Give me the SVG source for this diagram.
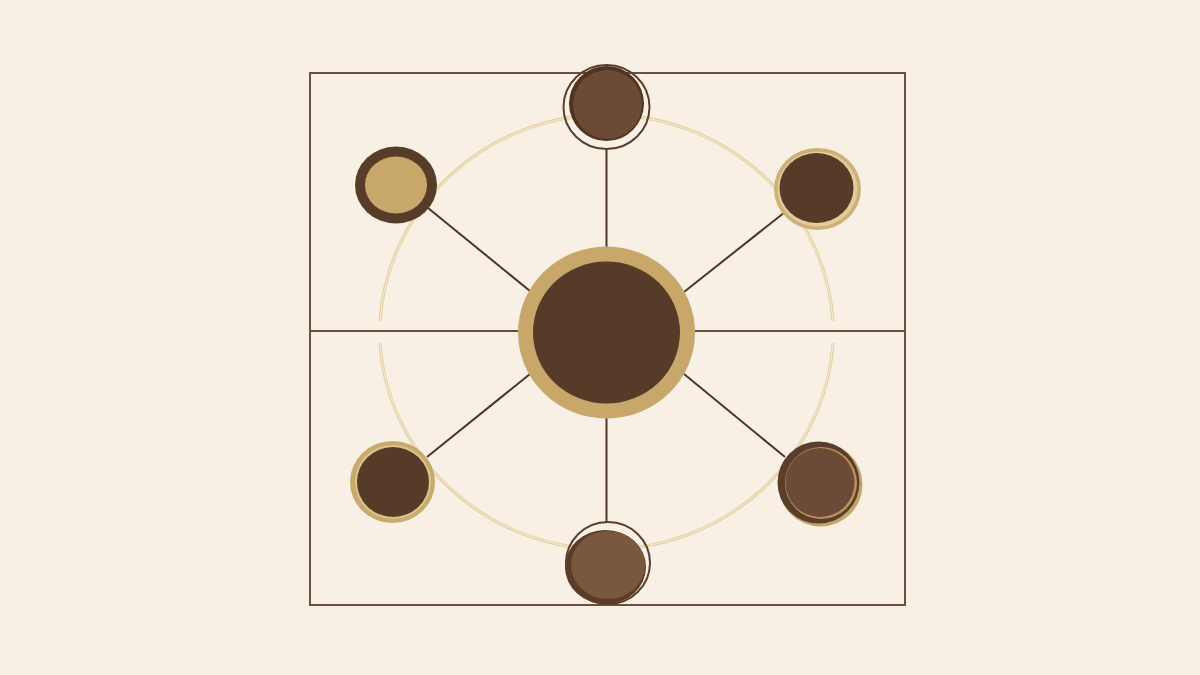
<svg xmlns="http://www.w3.org/2000/svg" width="1200" height="675" viewBox="0 0 1200 675">
<style>
.frame{fill:none;stroke:#6a5040;stroke-width:2}
.link{stroke:#4e3626;stroke-width:2;fill:none}
.ring1{fill:none;stroke:#e4d2a4;stroke-width:3.2}
.ring2{fill:none;stroke:#f6eedb;stroke-width:1}
.dark{fill:#573b29}
.gold{fill:#c8a76b}
.thin{fill:none;stroke:#5a3d2b;stroke-width:2}
</style>
<rect x="0" y="0" width="1200" height="675" fill="#f8f0e5"/>
<g id="frame">
<rect class="frame" x="310" y="73" width="595" height="532"/>
<line class="frame" x1="310" y1="331" x2="905" y2="331"/>
</g>
<g id="orbit">
<path class="ring1" d="M380,321 A227,221 0 0 1 833,321"/>
<path class="ring1" d="M380,343 A227,221 0 0 0 833,343"/>
<path class="ring2" d="M380,321 A227,221 0 0 1 833,321"/>
<path class="ring2" d="M380,343 A227,221 0 0 0 833,343"/>
</g>
<g id="connectors">
<line class="link" x1="606.5" y1="149" x2="606.5" y2="248"/>
<line class="link" x1="606.5" y1="417" x2="606.5" y2="522"/>
<line class="link" x1="428" y1="208" x2="530" y2="291"/>
<line class="link" x1="785" y1="212" x2="684" y2="292"/>
<line class="link" x1="427" y1="457" x2="530" y2="374"/>
<line class="link" x1="785" y1="457" x2="684" y2="374"/>
</g>
<g id="center">
<ellipse class="gold" cx="606.5" cy="332.5" rx="88.5" ry="86"/>
<ellipse class="dark" cx="606.5" cy="332.5" rx="73.5" ry="71"/>
</g>
<g id="node-top">
<ellipse class="thin" cx="606.5" cy="107" rx="43" ry="42"/>
<circle cx="606.5" cy="103.5" r="37.5" fill="#4f3423"/>
<circle cx="607.5" cy="104.5" r="34.5" fill="#6b4a36"/>
</g>
<g id="node-top-left">
<ellipse cx="396" cy="185" rx="41" ry="38.5" fill="#583c2a"/>
<ellipse class="gold" cx="396" cy="185" rx="31" ry="28.5"/>
</g>
<g id="node-top-right">
<ellipse cx="817.5" cy="189" rx="43.5" ry="41" fill="#cdb077"/>
<ellipse cx="817.5" cy="189" rx="40" ry="37.5" fill="#e3cc98"/>
<ellipse class="dark" cx="816.5" cy="188" rx="37" ry="35"/>
</g>
<g id="node-bottom-left">
<ellipse cx="392.5" cy="482" rx="42.5" ry="41" fill="#c9aa6e"/>
<ellipse cx="393" cy="482" rx="38" ry="37" fill="#dcc48e"/>
<ellipse class="dark" cx="393" cy="482" rx="36" ry="35"/>
</g>
<g id="node-bottom-right">
<circle cx="820.5" cy="484.5" r="42" fill="#c6a468"/>
<circle cx="818.5" cy="482.5" r="41" fill="#5a3d2b"/>
<circle cx="821" cy="483" r="36" fill="#b8925c"/>
<circle cx="820" cy="482.5" r="34.5" fill="#6b4b37"/>
</g>
<g id="node-bottom">
<ellipse class="thin" cx="608" cy="563" rx="42" ry="41"/>
<ellipse cx="605.5" cy="567" rx="40.5" ry="37" fill="#5a3c28"/>
<ellipse cx="608" cy="565" rx="37" ry="34" fill="#7a5840"/>
</g>
</svg>
